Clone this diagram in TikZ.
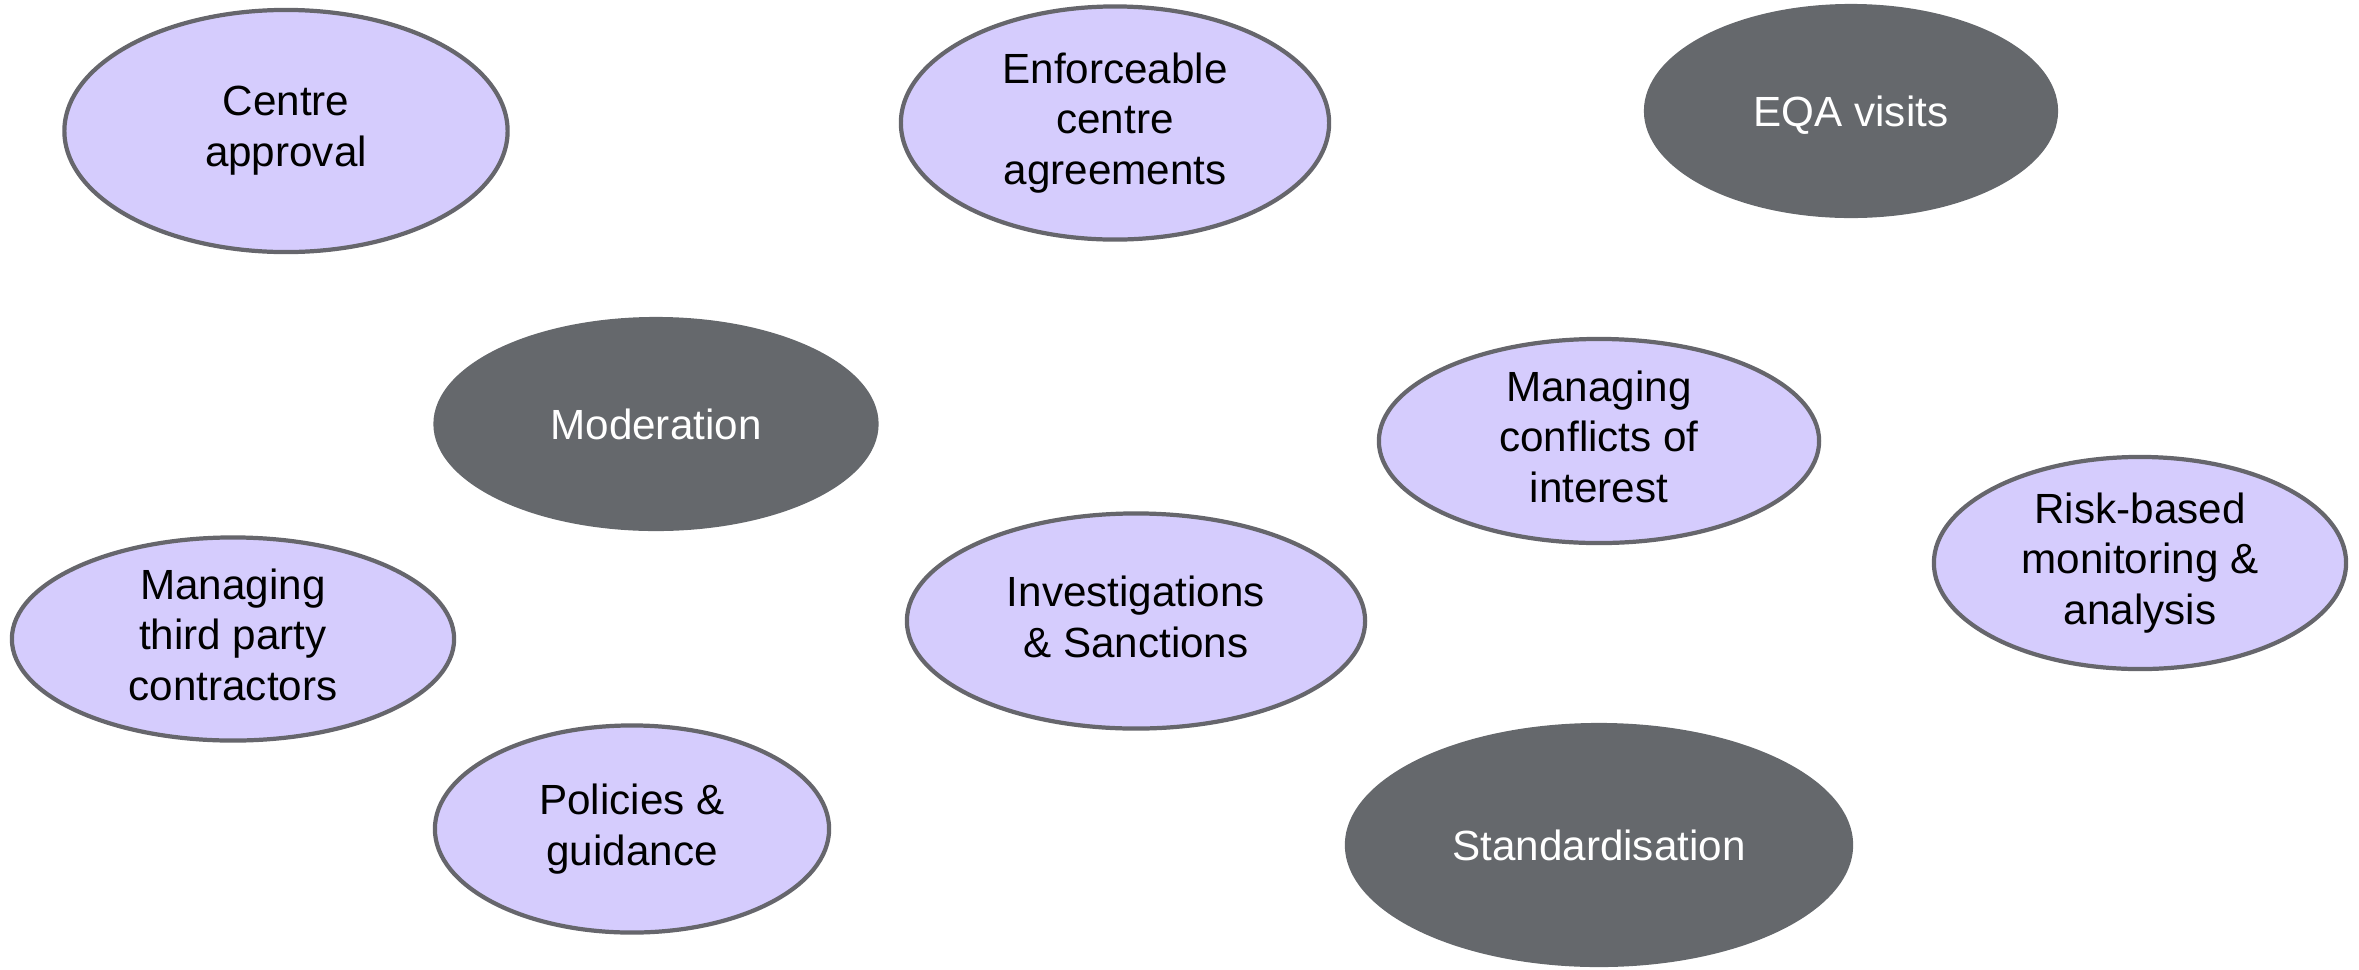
\documentclass[tikz,border=0pt]{standalone}
\usepackage{fontspec}
\setmainfont{Liberation Sans}
\usetikzlibrary{shapes.geometric}
\definecolor{lilac}{RGB}{213,204,253}
\definecolor{slate}{RGB}{101,104,108}
\definecolor{rim}{RGB}{102,102,108}
\begin{document}
\begin{tikzpicture}[x=0.01cm, y=-0.01cm,
    blob/.style={ellipse, inner sep=0pt, align=center, font=\fontsize{12}{14.4}\selectfont,
      execute at begin node={\rule{0pt}{0.95em}},
      execute at end node={\rule[-0.212em]{0pt}{0pt}}},
    light/.style={blob, fill=lilac, draw=rim, line width=1.2pt, text=black},
    dark/.style={blob, fill=slate, text=white}]
  \useasboundingbox (0,0) rectangle (2359,969);
  \node[light, minimum width=4.43cm, minimum height=2.42cm] (approval) at (286,131) {Centre\\approval};
  \node[light, minimum width=4.28cm, minimum height=2.33cm] (agreements) at (1115,123) {Enforceable\\centre\\agreements};
  \node[dark,  minimum width=4.14cm, minimum height=2.14cm] (eqa) at (1851,111) {EQA visits};
  \node[dark,  minimum width=4.45cm, minimum height=2.14cm] (moderation) at (656,424) {Moderation};
  \node[light, minimum width=4.40cm, minimum height=2.04cm] (conflicts) at (1599,441) {Managing\\conflicts of\\interest};
  \node[light, minimum width=4.12cm, minimum height=2.12cm] (risk) at (2140,563) {Risk-based\\monitoring \&\\analysis};
  \node[light, minimum width=4.42cm, minimum height=2.03cm] (contractors) at (233,639) {Managing\\third party\\contractors};
  \node[light, minimum width=4.58cm, minimum height=2.15cm] (investigations) at (1136,621) {Investigations\\\& Sanctions};
  \node[light, minimum width=3.94cm, minimum height=2.07cm] (policies) at (632,829) {Policies \&\\guidance};
  \node[dark,  minimum width=5.08cm, minimum height=2.44cm] (standardisation) at (1599,845) {Standardisation};
\end{tikzpicture}
\end{document}
